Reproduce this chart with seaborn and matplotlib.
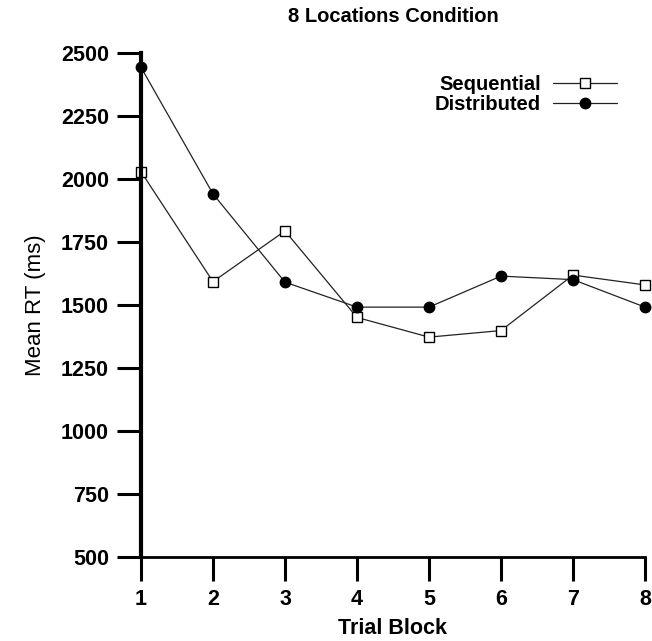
import matplotlib
matplotlib.use("Agg")
import matplotlib.pyplot as plt
import seaborn as sns
import pandas as pd

blocks = [1, 2, 3, 4, 5, 6, 7, 8]
sequential = [2028, 1592, 1793, 1450, 1372, 1398, 1618, 1579]
distributed = [2442, 1940, 1590, 1491, 1491, 1614, 1600, 1491]
y_ticks = [500, 750, 1000, 1250, 1500, 1750, 2000, 2250, 2500]

df = pd.DataFrame({
    "Trial Block": blocks * 2,
    "Mean RT": sequential + distributed,
    "Condition": ["Sequential"] * 8 + ["Distributed"] * 8,
})

sns.set_style("white")
plt.rcParams["font.family"] = ["Liberation Sans", "DejaVu Sans"]
plt.rcParams["text.color"] = "black"
plt.rcParams["axes.labelcolor"] = "black"
plt.rcParams["xtick.color"] = "black"
plt.rcParams["ytick.color"] = "black"

fig = plt.figure(figsize=(6.52, 6.41), dpi=100)
ax = fig.add_axes([141 / 652, 1 - 557 / 641, (645 - 141) / 652, (557 - 52.7) / 641])

sns.lineplot(data=df, x="Trial Block", y="Mean RT", hue="Condition", style="Condition",
             palette={"Sequential": "#222222", "Distributed": "#222222"},
             markers={"Sequential": "s", "Distributed": "o"},
             dashes=False, ax=ax, linewidth=0.9, legend=False, clip_on=False)

lines = ax.get_lines()
for ln in lines:
    ln.set_clip_on(False)
    ln.set_markeredgewidth(1.0)
    ln.set_markeredgecolor("black")
lines[0].set_markersize(6.5)
lines[1].set_markersize(7.5)
lines[0].set_markerfacecolor("white")
lines[1].set_markerfacecolor("black")
lines[0].set_label("Sequential")
lines[1].set_label("Distributed")

ax.set_xlim(1, 8)
ax.set_ylim(500, 2500)
ax.set_xticks(blocks)
ax.set_yticks(y_ticks)
ax.tick_params(axis="both", direction="out", length=17, width=2.2, labelsize=15.5, pad=6,
               left=True, bottom=True, color="black", labelcolor="black")
for lab in ax.get_xticklabels() + ax.get_yticklabels():
    lab.set_fontweight("bold")

for s in ["top", "right"]:
    ax.spines[s].set_visible(False)
ax.spines["left"].set_linewidth(3)
ax.spines["bottom"].set_linewidth(2)
ax.spines["left"].set_color("black")
ax.spines["bottom"].set_color("black")

ax.set_xlabel("Trial Block", fontsize=15.5, fontweight="bold", labelpad=6)
ax.set_ylabel("Mean RT (ms)", fontsize=16, labelpad=11)
ax.set_title("8 Locations Condition", fontsize=14.5, fontweight="bold", pad=22)

leg = ax.legend(handles=[lines[0], lines[1]], loc="upper right", markerfirst=False,
                frameon=False, fontsize=14.5, handlelength=3.2, handletextpad=0.6,
                labelspacing=0.05, borderpad=0.0, bbox_to_anchor=(0.965, 0.975))
for t in leg.get_texts():
    t.set_fontweight("bold")

fig.savefig("out.png", dpi=100)
